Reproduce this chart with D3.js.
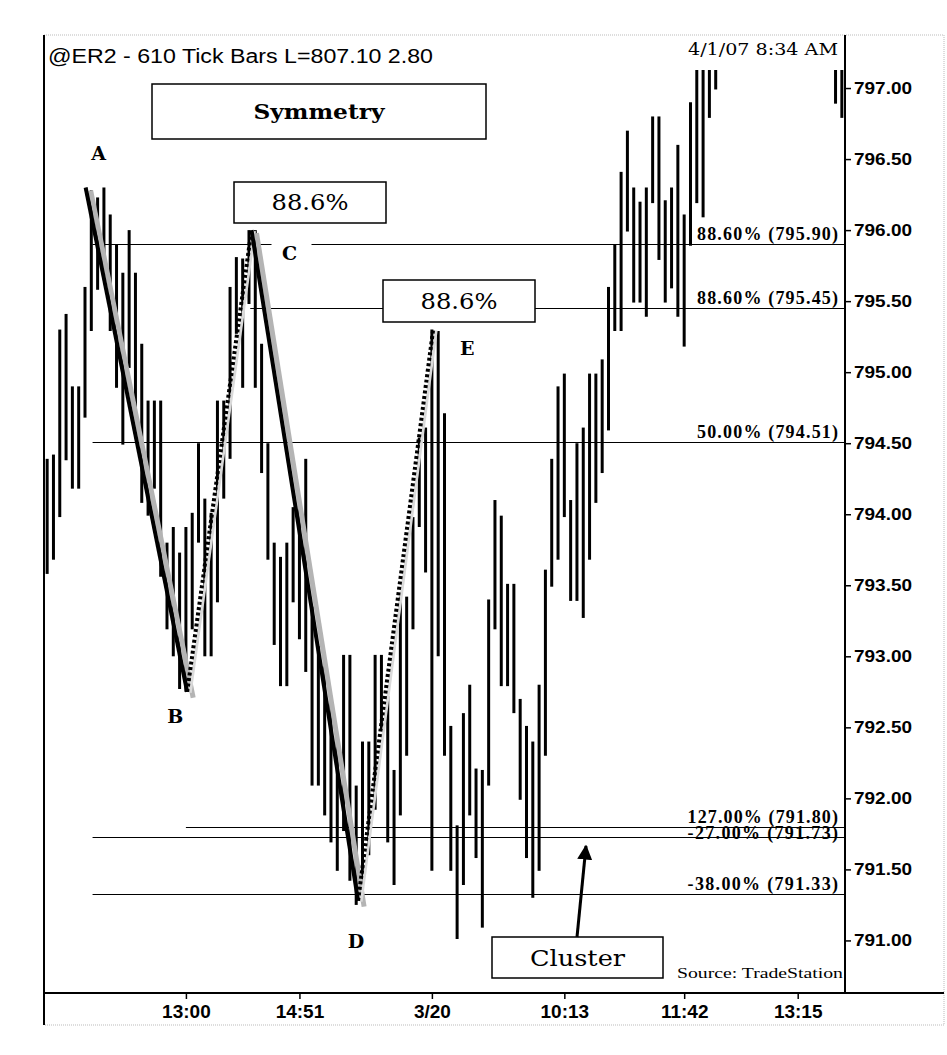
<!DOCTYPE html>
<html>
<head>
<meta charset="utf-8">
<script src="https://cdn.jsdelivr.net/npm/d3@7/dist/d3.min.js"></script>
<style>
  body { margin: 0; background: #fff; }
  svg { display: block; }
</style>
</head>
<body>
<div id="viz"></div>
<script>
// tick bar highs / lows, one per bar index (null = bar is above the visible chart)
const barHigh = [
  794.39, 794.42, 795.30, 795.41, 794.90, 794.90, 795.60, 796.28, 796.23, 796.30,
  796.11, 795.90, 795.70, 796.00, 795.70, 795.20, 794.80, 794.80, 794.80, 793.80,
  793.91, 793.73, 793.91, 794.01, 794.50, 794.11, 794.01, 794.80, 794.80, 795.60,
  795.81, 795.80, 796.00, 796.00, 795.20, 794.50, 793.80, 793.70, 793.80, 794.05,
  794.10, 794.39, 793.35, 793.07, 792.93, 792.72, 792.40, 793.01, 793.01, 792.09,
  792.40, 792.40, 793.01, 793.01, 792.72, 792.20, 793.42, 793.42, 793.98, 794.54,
  794.61, 795.30, 795.29, 794.71, 792.51, 791.81, 792.60, 792.80, 792.21, 792.20,
  793.40, 794.10, 793.99, 793.51, 793.51, 792.70, 792.51, 792.40, 792.80, 793.61,
  794.39, 794.90, 794.99, 794.10, 794.50, 794.61, 794.99, 794.99, 795.09, 795.60,
  795.90, 796.41, 796.70, 796.30, 796.20, 796.30, 796.80, 796.80, 796.21, 796.30,
  796.60, 796.11, 796.90, 797.30, 797.30, 797.30, 797.30,
  null, null, null, null, null, null, null, null, null, null,
  null, null, null, null, null, null, null, null,
  797.30, 797.30
];
const barLow = [
  793.58, 793.68, 793.98, 794.38, 794.18, 794.18, 794.68, 795.29, 795.58, 795.77,
  795.29, 794.89, 794.49, 795.03, 794.75, 794.08, 793.99, 794.18, 793.56, 793.19,
  793.00, 792.77, 792.75, 793.19, 793.80, 793.00, 793.00, 793.38, 794.11, 794.39,
  795.27, 794.89, 795.48, 794.89, 794.29, 793.68, 793.08, 792.79, 792.79, 793.38,
  793.12, 792.89, 792.09, 792.09, 791.88, 791.69, 791.49, 791.77, 791.42, 791.25,
  791.29, 791.60, 791.92, 792.48, 791.69, 791.39, 791.88, 792.30, 793.19, 793.91,
  793.59, 791.49, 793.00, 792.30, 791.49, 791.01, 791.39, 791.88, 791.58, 791.09,
  792.09, 793.19, 792.79, 792.79, 792.60, 791.99, 791.58, 791.30, 791.49, 792.30,
  793.49, 793.68, 793.98, 793.39, 793.39, 793.27, 793.68, 794.08, 794.29, 794.59,
  795.29, 795.29, 795.99, 795.49, 795.49, 795.39, 796.19, 795.79, 795.49, 795.59,
  795.39, 795.18, 795.89, 796.19, 796.09, 796.79, 796.99,
  null, null, null, null, null, null, null, null, null, null,
  null, null, null, null, null, null, null, null,
  796.89, 796.79
];

// swing points of the symmetry pattern
const swingNames = ['A', 'B', 'C', 'D', 'E'];
const swingIndex = [6.1, 22.2, 32.4, 49.3, 61.2];
const swingPrice = [796.30, 792.75, 796.00, 791.28, 795.30];

// fibonacci levels
const fibLevels = [795.90, 795.45, 794.51, 791.80, 791.73, 791.33];
const fibLabels = ['88.60% (795.90)', '88.60% (795.45)', '50.00% (794.51)',
                   '127.00% (791.80)', '-27.00% (791.73)', '-38.00% (791.33)'];
const fibStart = [7.2, 32.2, 7.2, 22.0, 7.2, 7.2];

// axes
const yTicks = [791, 791.5, 792, 792.5, 793, 793.5, 794, 794.5, 795, 795.5, 796, 796.5, 797];
const xTickIndex = [22, 40, 61, 82, 101, 119];
const xTickLabels = ['13:00', '14:51', '3/20', '10:13', '11:42', '13:15'];

const width = 947;
const height = 1055;
const plot = {left: 44, right: 845, top: 70, bottom: 993};

const svg = d3.select('#viz')
  .append('svg')
    .attr('width', width)
    .attr('height', height)
    .attr('viewBox', [0, 0, width, height]);

const xScale = d3.scaleLinear()
  .domain([-0.5, 126.5])
  .range([plot.left, plot.right]);

const yScale = d3.scaleLinear()
  .domain([790.63, 797.127])
  .range([plot.bottom, plot.top]);

svg.append('defs').append('clipPath')
    .attr('id', 'plot-clip')
  .append('rect')
    .attr('x', plot.left)
    .attr('y', plot.top)
    .attr('width', plot.right - plot.left)
    .attr('height', plot.bottom - plot.top);

// frame
svg.append('rect')
  .attr('x', plot.left).attr('y', 35)
  .attr('width', 944 - plot.left).attr('height', 1025 - 35)
  .attr('fill', 'none')
  .attr('stroke', '#bbb')
  .attr('stroke-dasharray', '1,1');
svg.append('line')
  .attr('x1', plot.left).attr('x2', plot.left)
  .attr('y1', 35).attr('y2', 1025)
  .attr('stroke', '#000').attr('stroke-width', 2);

// fib lines
const fibs = fibLevels.map((v, i) => ({v, label: fibLabels[i], start: fibStart[i]}));
svg.append('g')
    .attr('class', 'fib-lines')
  .selectAll('line')
  .data(fibs)
  .join('line')
    .attr('x1', d => xScale(d.start))
    .attr('x2', plot.right)
    .attr('y1', d => Math.round(yScale(d.v)) + 0.5)
    .attr('y2', d => Math.round(yScale(d.v)) + 0.5)
    .attr('stroke', '#000')
    .attr('stroke-width', 1.2);

// tick bars
const bars = barHigh
  .map((h, i) => ({i, h, l: barLow[i]}))
  .filter(d => d.h !== null);

svg.append('g')
    .attr('class', 'bars')
    .attr('clip-path', 'url(#plot-clip)')
  .selectAll('line')
  .data(bars)
  .join('line')
    .attr('x1', d => xScale(d.i))
    .attr('x2', d => xScale(d.i))
    .attr('y1', d => yScale(d.h))
    .attr('y2', d => yScale(d.l))
    .attr('stroke', '#000')
    .attr('stroke-width', 3);

// swing legs: solid for A-B and C-D, dotted for B-C and D-E
const swings = swingNames.map((name, i) => ({name, i: swingIndex[i], v: swingPrice[i]}));
const legs = d3.range(swings.length - 1).map(k => ({from: swings[k], to: swings[k + 1], dotted: k % 2 === 1}));

const legs_g = svg.append('g').attr('class', 'legs');
legs_g.selectAll('line.shadow')
  .data(legs)
  .join('line')
    .attr('class', 'shadow')
    .attr('x1', d => xScale(d.from.i) + (d.dotted ? 3 : 5))
    .attr('y1', d => yScale(d.from.v) + (d.dotted ? 1 : 3))
    .attr('x2', d => xScale(d.to.i) + (d.dotted ? 3 : 6))
    .attr('y2', d => yScale(d.to.v) + (d.dotted ? 1 : 6))
    .attr('stroke', d => d.dotted ? '#dadada' : '#b4b4b4')
    .attr('stroke-width', d => d.dotted ? 3 : 5);
legs_g.selectAll('line.leg')
  .data(legs)
  .join('line')
    .attr('class', 'leg')
    .attr('x1', d => xScale(d.from.i))
    .attr('y1', d => yScale(d.from.v))
    .attr('x2', d => xScale(d.to.i))
    .attr('y2', d => yScale(d.to.v))
    .attr('stroke', '#000')
    .attr('stroke-width', 4)
    .attr('stroke-dasharray', d => d.dotted ? '3,2.5' : null);

// swing labels
const swingOffset = {A: [13, -27], B: [-12, 31], C: [38, 30], D: [-2, 47], E: [34, 25]};
const swingLabels = svg.append('g').attr('class', 'swing-labels');
// white patch that interrupts the 795.90 line behind "C"
swingLabels.append('rect')
  .attr('x', xScale(swings[2].i) + swingOffset.C[0] - 18)
  .attr('y', yScale(swings[2].v) + 8)
  .attr('width', 40)
  .attr('height', 24)
  .attr('fill', '#fff');
swingLabels.selectAll('text')
  .data(swings)
  .join('text')
    .attr('x', d => xScale(d.i) + swingOffset[d.name][0])
    .attr('y', d => yScale(d.v) + swingOffset[d.name][1])
    .attr('text-anchor', 'middle')
    .attr('font-family', '"DejaVu Serif", serif')
    .attr('font-weight', 'bold')
    .attr('font-size', 19)
    .text(d => d.name);

// fib level labels
svg.append('g')
    .attr('class', 'fib-labels')
  .selectAll('text')
  .data(fibs)
  .join('text')
    .attr('x', 838)
    .attr('y', (d, i) => yScale(d.v) - (i === 4 ? -2 : 4))
    .attr('text-anchor', 'end')
    .attr('font-family', '"Liberation Serif", serif')
    .attr('font-weight', 'bold')
    .attr('font-size', 18)
    .attr('textLength', d => d.label.length * 9.4)
    .attr('lengthAdjust', 'spacing')
    .text(d => d.label);

// annotation boxes
const boxes = [
  {text: 'Symmetry', x: 152, y: 84, w: 334, h: 55, size: 21, bold: true, tl: 131},
  {text: '88.6%', x: 234, y: 182, w: 152, h: 41, size: 22, bold: false, tl: 77},
  {text: '88.6%', x: 383, y: 280, w: 152, h: 42, size: 22, bold: false, tl: 77},
  {text: 'Cluster', x: 492, y: 937, w: 171, h: 41, size: 23, bold: false, tl: 95}
];
const boxG = svg.append('g').attr('class', 'boxes')
  .selectAll('g')
  .data(boxes)
  .join('g');
boxG.append('rect')
  .attr('x', d => d.x).attr('y', d => d.y)
  .attr('width', d => d.w).attr('height', d => d.h)
  .attr('fill', '#fff')
  .attr('stroke', '#000')
  .attr('stroke-width', 1.5);
boxG.append('text')
  .attr('x', d => d.x + d.w / 2)
  .attr('y', d => d.y + d.h / 2 + d.size * 0.35)
  .attr('text-anchor', 'middle')
  .attr('font-family', '"DejaVu Serif", serif')
  .attr('font-weight', d => d.bold ? 'bold' : 'normal')
  .attr('font-size', d => d.size)
  .attr('textLength', d => d.tl)
  .attr('lengthAdjust', 'spacingAndGlyphs')
  .text(d => d.text);

// arrow from the Cluster box to the cluster zone
const arrowStart = [577, 937];
const arrowEnd = [586, 846];
svg.append('defs').append('marker')
    .attr('id', 'arrowhead')
    .attr('viewBox', '0 0 10 10')
    .attr('refX', 9).attr('refY', 5)
    .attr('markerWidth', 5).attr('markerHeight', 5)
    .attr('orient', 'auto')
  .append('path')
    .attr('d', 'M0,0 L10,5 L0,10 Z')
    .attr('fill', '#000');
svg.append('line')
  .attr('x1', arrowStart[0]).attr('y1', arrowStart[1])
  .attr('x2', arrowEnd[0]).attr('y2', arrowEnd[1])
  .attr('stroke', '#000')
  .attr('stroke-width', 3)
  .attr('marker-end', 'url(#arrowhead)');

// y axis on the right
const yAxis = d3.axisRight(yScale)
  .tickValues(yTicks)
  .tickSize(6)
  .tickFormat(d3.format('.2f'));
const yAxisGroup = svg.append('g')
    .attr('class', 'y-axis-group')
    .attr('transform', `translate(${plot.right}, 0)`)
  .call(yAxis);
yAxisGroup.select('.domain').remove();
yAxisGroup.selectAll('line').attr('stroke', '#000').attr('stroke-width', 1.5);
yAxisGroup.selectAll('text')
  .attr('x', 9)
  .attr('fill', '#000')
  .attr('font-family', '"Liberation Sans", Arial, sans-serif')
  .attr('font-weight', 'bold')
  .attr('font-size', 17)
  .attr('textLength', 58)
  .attr('lengthAdjust', 'spacingAndGlyphs');
svg.append('line')
  .attr('x1', plot.right).attr('x2', plot.right)
  .attr('y1', 35).attr('y2', plot.bottom)
  .attr('stroke', '#000').attr('stroke-width', 2);

// x axis
const xAxis = d3.axisBottom(xScale)
  .tickValues(xTickIndex)
  .tickSize(6)
  .tickFormat((d, i) => xTickLabels[i]);
const xAxisGroup = svg.append('g')
    .attr('class', 'x-axis-group')
    .attr('transform', `translate(0, ${plot.bottom})`)
  .call(xAxis);
xAxisGroup.select('.domain').remove();
xAxisGroup.selectAll('line').attr('stroke', '#000').attr('stroke-width', 1.5);
xAxisGroup.selectAll('text')
  .attr('y', 12)
  .attr('fill', '#000')
  .attr('font-family', '"Liberation Sans Narrow", "Liberation Sans", sans-serif')
  .attr('font-weight', 'bold')
  .attr('font-size', 19);
svg.append('line')
  .attr('x1', plot.left).attr('x2', 944)
  .attr('y1', plot.bottom).attr('y2', plot.bottom)
  .attr('stroke', '#000').attr('stroke-width', 2);

// titles
svg.append('text')
  .attr('x', 48).attr('y', 63)
  .attr('font-family', '"Liberation Sans", Arial, sans-serif')
  .attr('font-size', 20)
  .attr('textLength', 385)
  .attr('lengthAdjust', 'spacingAndGlyphs')
  .text('@ER2 - 610 Tick Bars  L=807.10  2.80');
svg.append('text')
  .attr('x', 838).attr('y', 55)
  .attr('text-anchor', 'end')
  .attr('font-family', '"DejaVu Serif", serif')
  .attr('font-size', 16)
  .attr('textLength', 150)
  .attr('lengthAdjust', 'spacingAndGlyphs')
  .text('4/1/07 8:34 AM');
svg.append('text')
  .attr('x', 843).attr('y', 978)
  .attr('text-anchor', 'end')
  .attr('font-family', '"Liberation Serif", serif')
  .attr('font-size', 14)
  .attr('textLength', 166)
  .attr('lengthAdjust', 'spacingAndGlyphs')
  .text('Source: TradeStation');
</script>
</body>
</html>
